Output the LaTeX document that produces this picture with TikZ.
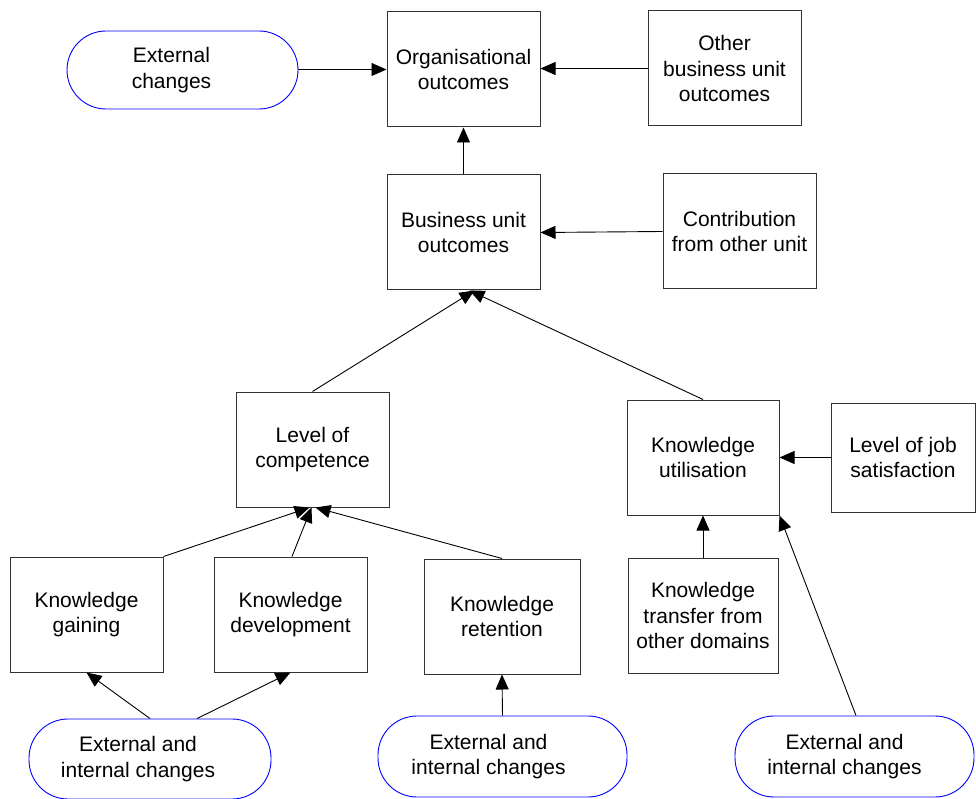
\documentclass[tikz,border=0pt]{standalone}
\usepackage{fontspec}
\setmainfont{Liberation Sans}
\usetikzlibrary{arrows.meta,calc}

\begin{document}
\begin{tikzpicture}[x=1pt,y=-1pt,
  every node/.style={font=\fontsize{21}{25.5}\selectfont, align=center},
  boxnode/.style={draw=black!80, line width=1pt, inner sep=0pt},
  stadium/.style={draw=blue, line width=0.9pt, inner sep=0pt},
  txt/.style={inner sep=0pt},
  link/.style={draw=black, line width=0.9pt, -{Triangle[length=15pt,width=13pt]}}
]
\useasboundingbox (0,0) rectangle (976,799);

% rectangular factor boxes
\node[boxnode, minimum width=153pt, minimum height=115pt] (org) at (463.5,69.5) {Organisational\\outcomes};
\node[boxnode, minimum width=153pt, minimum height=115pt] (other) at (724.5,68.5) {Other\\business unit\\outcomes};
\node[boxnode, minimum width=153pt, minimum height=115pt] (bu) at (463.5,232.5) {Business unit\\outcomes};
\node[boxnode, minimum width=153pt, minimum height=115pt] (contrib) at (739.5,231.5) {Contribution\\from other unit};
\node[boxnode, minimum width=153pt, minimum height=115pt] (comp) at (312.5,449.5) {Level of\\competence};
\node[boxnode, minimum width=152pt, minimum height=115pt] (util) at (703,457.5) {Knowledge\\utilisation};
\node[boxnode, minimum width=144pt, minimum height=109pt] (job) at (903,457.5) {Level of job\\satisfaction};
\node[boxnode, minimum width=153pt, minimum height=115pt] (gain) at (86.5,614.5) {Knowledge\\gaining};
\node[boxnode, minimum width=153pt, minimum height=115pt] (dev) at (290.5,614.5) {Knowledge\\development};
\node[boxnode, minimum width=156pt, minimum height=115pt] (ret) at (502,616.5) {Knowledge\\retention};
\node[boxnode, minimum width=150pt, minimum height=115pt] (trans) at (703,615.5) {Knowledge\\transfer from\\other domains};

% rounded terminals for outside influences
\node[stadium, rounded corners=39pt, minimum width=231pt, minimum height=78pt] (ext) at (182.5,70) {};
\node[txt] (extlbl) at ($(ext.center)+(-11,0)$) {External\\changes};

\node[stadium, rounded corners=39pt, minimum width=242pt, minimum height=80pt] (eiA) at (150,759) {};
\node[txt] (eiAlbl) at ($(eiA.center)+(-12,0)$) {External and\\internal changes};

\node[stadium, rounded corners=39pt, minimum width=249pt, minimum height=81pt] (eiB) at (502.5,756.5) {};
\node[txt] (eiBlbl) at ($(eiB.center)+(-14,0)$) {External and\\internal changes};

\node[stadium, rounded corners=39pt, minimum width=239pt, minimum height=81pt] (eiC) at (854.5,756.5) {};
\node[txt] (eiClbl) at ($(eiC.center)+(-10,0)$) {External and\\internal changes};

% arrow end points on shared edges
\coordinate (buInL) at ([xshift=11pt]bu.south);
\coordinate (buInR) at ([xshift=6pt]bu.south);
\coordinate (compInA) at ([xshift=-3pt]comp.south);
\coordinate (compInB) at ([xshift=-1pt]comp.south);
\coordinate (compInC) at ([xshift=3pt]comp.south);
\coordinate (eiAout1) at ([xshift=0pt]eiA.north);
\coordinate (eiAout2) at ([xshift=47pt]eiA.north);
\coordinate (eiCout) at ([xshift=1.5pt]eiC.north);
\coordinate (devTop) at ([xshift=1.5pt]dev.north);

% influence arrows
\draw[link] (ext.east |- org.west) -- (org.west);
\draw[link] (other.west) -- (other.west -| org.east);
\draw[link] (bu.north) -- (org.south);
\draw[link] (contrib.west) -- (bu.east);
\draw[link] (comp.north) -- (buInL);
\draw[link] (util.north) -- (buInR);
\draw[link] (gain.north east) -- (compInA);
\draw[link] (devTop) -- (compInB);
\draw[link] (ret.north) -- (compInC);
\draw[link] (job.west) -- (util.east);
\draw[link] (trans.north) -- (util.south);
\draw[link] (eiCout) -- (util.south east);
\draw[link] (eiB.north) -- (ret.south);
\draw[link] (eiAout1) -- (gain.south);
\draw[link] (eiAout2) -- (dev.south);
\end{tikzpicture}
\end{document}
